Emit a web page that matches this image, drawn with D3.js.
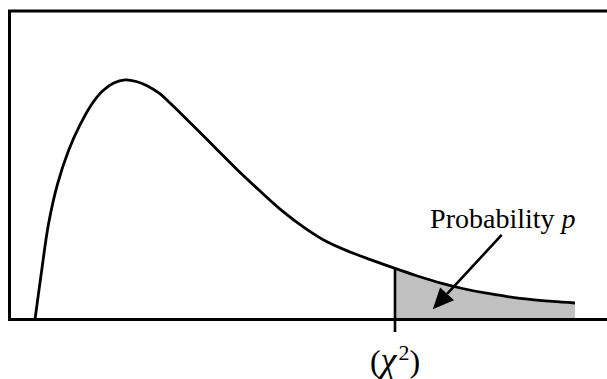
<!DOCTYPE html>
<html>
<head>
<meta charset="utf-8">
<script src="https://cdn.jsdelivr.net/npm/d3@7"></script>
<style>
  body { margin: 0; background: #fff; }
  svg { display: block; }
  text { font-family: "Liberation Serif", "Times New Roman", serif; }
</style>
</head>
<body>
<div id="chart"></div>
<script>
// chi-square style density
var xVals = [0, 0.15, 0.3, 0.5, 0.75, 1, 1.25, 1.5, 1.75, 2, 2.25, 2.5, 2.75, 3, 3.5, 4, 4.5, 5, 5.5, 6, 6.5, 7, 7.5, 8, 8.5, 9, 9.5, 10, 10.5, 11, 11.5, 12];
var density = [0, 0.0321, 0.0619, 0.0878, 0.1099, 0.1261, 0.1391, 0.1481, 0.1533, 0.1553, 0.1543, 0.1514, 0.1469, 0.1404, 0.1261, 0.1115, 0.0969, 0.0833, 0.0703, 0.0593, 0.0502, 0.0438, 0.0383, 0.0331, 0.0282, 0.0237, 0.0201, 0.0172, 0.0149, 0.0130, 0.0117, 0.0107];
var critical = 8;
var label = ["Probability ", "p"];
var arrowFrom = [10.37, 0.0548];
var arrowTo = [8.84, 0.0066];
var labelAt = [8.78, 0.0593];

var W = 607, H = 379;
var frame = {left: 9.5, top: 11, bottom: 319.5};

var x = d3.scaleLinear().domain([0, 12]).range([35, 575]);
var y = d3.scaleLinear().domain([0, 0.2]).range([frame.bottom, frame.top]);

var data = xVals.map(function(v, i) { return {x: v, y: density[i]}; });
var tail = data.filter(function(d) { return d.x >= critical; });

var svg = d3.select("#chart").append("svg")
    .attr("width", W)
    .attr("height", H);

// shaded tail
var area = d3.area()
    .x(function(d) { return x(d.x); })
    .y0(y(0))
    .y1(function(d) { return y(d.y); })
    .curve(d3.curveCatmullRom);

svg.append("path")
    .datum(tail)
    .attr("d", area)
    .attr("fill", "#c0c0c0");

// frame: top, left, bottom
svg.append("path")
    .attr("d", "M" + W + "," + frame.top + "H" + frame.left + "V" + frame.bottom + "H" + W)
    .attr("fill", "none")
    .attr("stroke", "#000")
    .attr("stroke-width", 3);

var line = d3.line()
    .x(function(d) { return x(d.x); })
    .y(function(d) { return y(d.y); })
    .curve(d3.curveCatmullRom);

svg.append("path")
    .datum(data)
    .attr("d", line)
    .attr("fill", "none")
    .attr("stroke", "#000")
    .attr("stroke-width", 2.8);

// critical value marker
var critY = density[xVals.indexOf(critical)];
svg.append("line")
    .attr("x1", x(critical)).attr("x2", x(critical))
    .attr("y1", y(critY)).attr("y2", y(0) + 12.5)
    .attr("stroke", "#000")
    .attr("stroke-width", 2.6);

var chi = svg.append("text")
    .attr("x", x(critical))
    .attr("y", 372)
    .attr("text-anchor", "middle")
    .style("font-size", "32px");
chi.append("tspan").text("(");
chi.append("tspan").style("font-style", "italic").style("font-size", "36px").text("\u03c7");
chi.append("tspan").attr("dx", 2).attr("dy", -12).style("font-size", "22px").text("2");
chi.append("tspan").attr("dy", 12).text(")");

// label + arrow
var lab = svg.append("text")
    .attr("x", x(labelAt[0]))
    .attr("y", y(labelAt[1]))
    .style("font-size", "28px");
lab.append("tspan").text(label[0]);
lab.append("tspan").style("font-style", "italic").text(label[1]);

var x1 = x(arrowFrom[0]), y1 = y(arrowFrom[1]);
var x2 = x(arrowTo[0]), y2 = y(arrowTo[1]);
var ang = Math.atan2(y2 - y1, x2 - x1);
var headLen = 21, headW = 9.5;
var bx = x2 - headLen * Math.cos(ang), by = y2 - headLen * Math.sin(ang);

svg.append("line")
    .attr("x1", x1).attr("y1", y1)
    .attr("x2", bx).attr("y2", by)
    .attr("stroke", "#000")
    .attr("stroke-width", 2.6);

svg.append("path")
    .attr("d", "M" + x2 + "," + y2 +
        "L" + (bx + headW * Math.sin(ang)) + "," + (by - headW * Math.cos(ang)) +
        "L" + (bx - headW * Math.sin(ang)) + "," + (by + headW * Math.cos(ang)) + "Z")
    .attr("fill", "#000");
</script>
</body>
</html>
